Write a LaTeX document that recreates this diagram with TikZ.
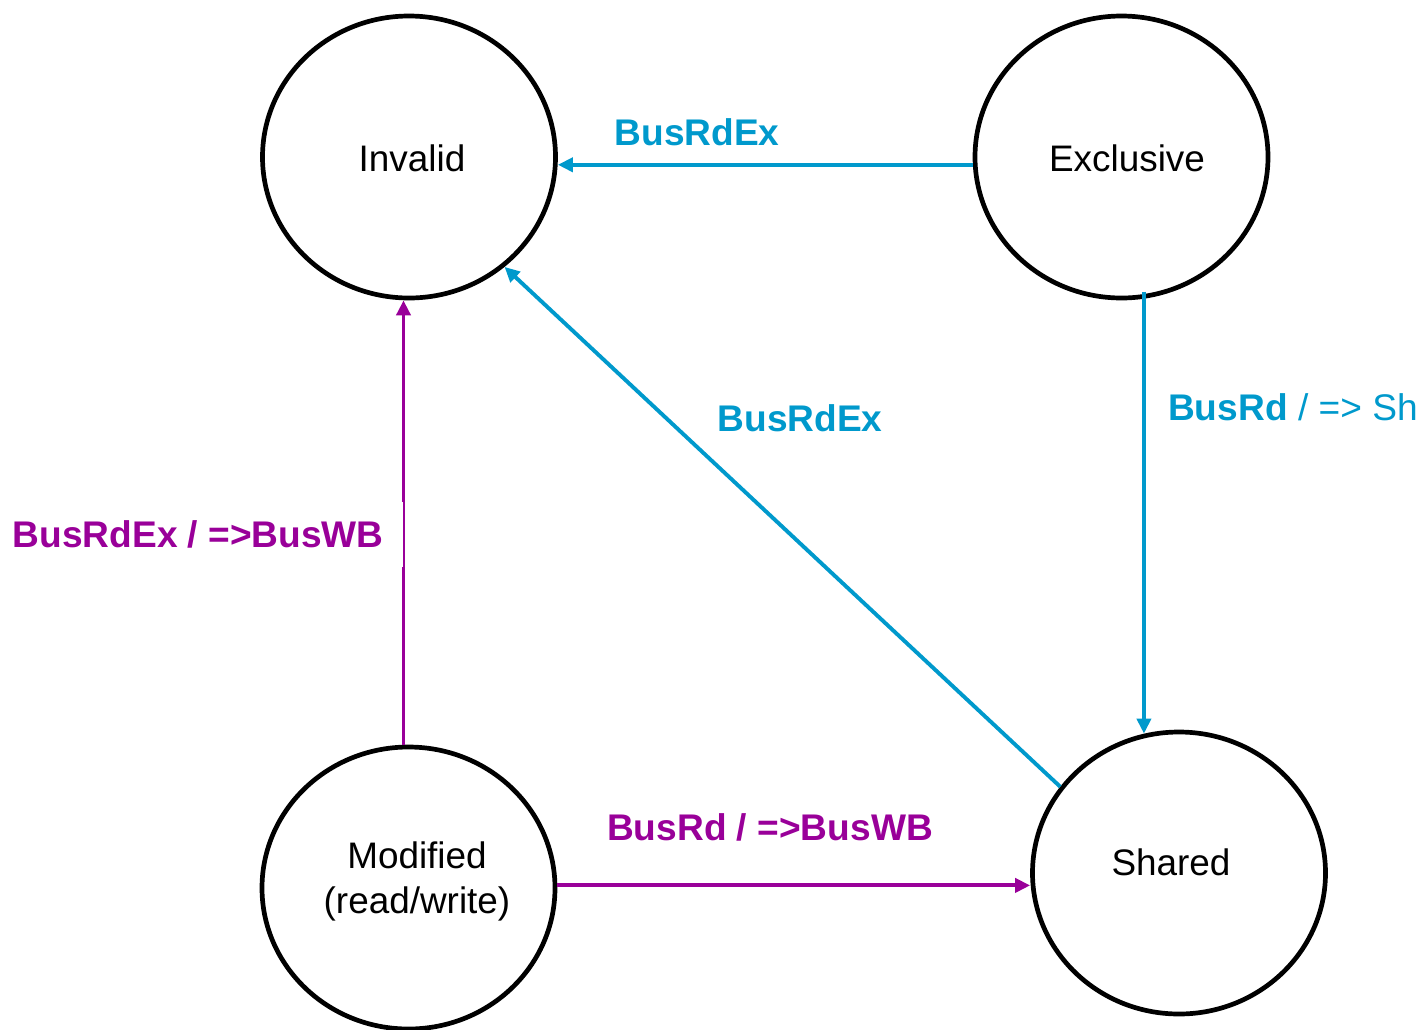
\documentclass[tikz,border=0pt]{standalone}
\usepackage{fontspec}
\setmainfont{Liberation Sans}
\usetikzlibrary{arrows.meta,shapes.geometric}
\definecolor{busblue}{RGB}{0,153,204}
\definecolor{buspurple}{RGB}{153,0,153}
\tikzset{
  state/.style={ellipse, draw=black, line width=4.7pt, minimum width=293pt,
                minimum height=282pt, inner sep=0pt},
  statetext/.style={font=\fontsize{36.9}{45}\selectfont, align=center, inner sep=0pt},
  trans/.style={line width=3.9pt, -{Triangle[length=15pt,width=14pt]}},
  blueedge/.style={trans, draw=busblue},
  purpleedge/.style={trans, draw=buspurple},
  edgelabel/.style={font=\fontsize{37.1}{45}\selectfont\bfseries, inner sep=0pt},
}
\begin{document}
\begin{tikzpicture}[x=1pt, y=-1pt]
  \useasboundingbox (0,0) rectangle (1422,1029);

  % states of the protocol
  \node[state] (inv) at (409,157) {};
  \node[state] (exc) at (1121.5,157) {};
  \node[state] (mod) at (408.5,888) {};
  \node[state] (sh)  at (1179,873) {};

  \node[statetext] (invtxt) at (412,158) {Invalid};
  \node[statetext] (exctxt) at (1127,158) {Exclusive};
  \node[statetext] (modtxt) at (417,881) {Modified\\(read/write)};
  \node[statetext] (shtxt)  at (1171,862) {Shared};

  % snooped bus transactions
  \draw[blueedge] (exc.183.5) -- (exc.183.5 -| inv.east);
  \draw[blueedge] (sh.144.2) -- (inv.-49.6);
  \draw[blueedge, shorten <=-7pt] (exc.-81.3) -- (exc.-81.3 |- sh.104.3);
  \draw[purpleedge] (mod.92.2) -- (mod.92.2 |- inv.south);
  \draw[purpleedge] (mod.1.95) -- (mod.1.95 -| sh.west);

  % transition labels
  \node[edgelabel, text=busblue] (lab1) at (697,132) {BusRdEx};
  \node[edgelabel, text=busblue] (lab2) at (800,418) {BusRdEx};
  \node[edgelabel, text=busblue, anchor=west] (lab3) at (1168,407)
    {BusRd\mdseries\ / => Sh};
  \node[edgelabel, text=buspurple, anchor=east, fill=white,
        inner xsep=0pt, minimum height=65pt] (lab4) at (384,534)
    {BusRdEx / =>BusWB};
  \node[fill=white, inner sep=0pt, minimum width=21pt, minimum height=65pt,
        anchor=east] (lab4pad) at (lab4.east -| 403.5,0) {};
  \node[edgelabel, text=buspurple] (lab5) at (770,827) {BusRd / =>BusWB};
\end{tikzpicture}
\end{document}
